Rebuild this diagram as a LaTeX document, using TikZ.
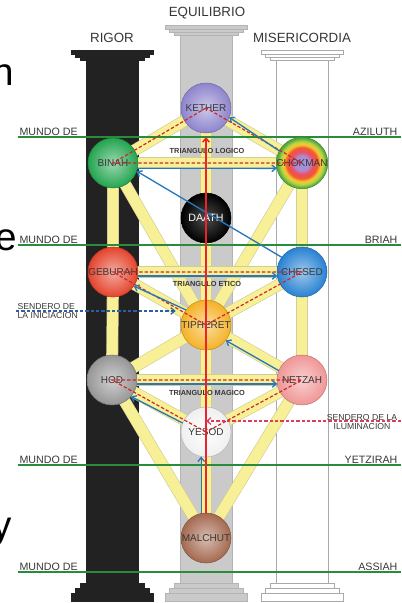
\documentclass[tikz,border=0pt]{standalone}
\usepackage{fontspec}
\setmainfont{Liberation Sans}
\usetikzlibrary{arrows.meta}

\definecolor{ketherc}{RGB}{142,132,205}
\definecolor{binahc}{RGB}{35,165,80}
\definecolor{geburahc}{RGB}{228,68,45}
\definecolor{chesedc}{RGB}{40,130,210}
\definecolor{tipherethc}{RGB}{245,178,40}
\definecolor{hodc}{RGB}{150,150,150}
\definecolor{netzahc}{RGB}{240,150,150}
\definecolor{malchutc}{RGB}{165,105,80}
\definecolor{chokA}{RGB}{150,150,225}
\definecolor{chokB}{RGB}{175,140,210}
\definecolor{chokC}{RGB}{235,80,100}
\definecolor{chokD}{RGB}{240,90,45}
\definecolor{chokE}{RGB}{250,200,50}
\definecolor{chokF}{RGB}{175,212,70}
\definecolor{chokG}{RGB}{85,170,60}
\definecolor{labelgray}{RGB}{55,55,55}
\definecolor{pathyellow}{RGB}{247,240,150}
\definecolor{pathedge}{RGB}{210,205,150}
\definecolor{worldgreen}{RGB}{40,140,60}
\definecolor{trired}{RGB}{205,40,40}
\definecolor{spinered}{RGB}{235,35,45}
\definecolor{flashblue}{RGB}{40,120,185}
\definecolor{inicblue}{RGB}{45,95,165}
\definecolor{ilumred}{RGB}{220,60,95}
\definecolor{pillarblack}{RGB}{34,34,34}
\definecolor{pillargray}{RGB}{202,202,202}
\definecolor{pillargrayedge}{RGB}{180,180,180}
\definecolor{pillaredge}{RGB}{170,170,170}

\pgfdeclareradialshading{chokmahrings}{\pgfpoint{0bp}{0bp}}{color(0bp)=(chokA); color(7bp)=(chokB); color(11bp)=(chokC); color(15bp)=(chokD); color(18bp)=(chokE); color(21bp)=(chokF); color(24bp)=(chokG); color(50bp)=(chokG)}

\pgfdeclarelayer{pillars}
\pgfdeclarelayer{paths}
\pgfsetlayers{pillars,paths,main}

\tikzset{
  sefira/.style={circle, minimum size=37.5pt, inner sep=0pt, outer sep=0pt, line width=0.4pt, text=labelgray, font=\fontsize{7.5}{8}\selectfont},
  sefiratint/.style={inner color=#1!45!white, outer color=#1, draw=#1!80!black},
  sendero/.style={double=pathyellow, double distance=8pt, line width=0.5pt, draw=pathedge},
  mundo/.style={draw=worldgreen, line width=1.1pt},
  mundotext/.style={font=\fontsize{8}{9}\selectfont, text=labelgray, inner sep=1pt},
  pillarlabel/.style={font=\fontsize{10}{12}\selectfont, text=labelgray},
  trianglelabel/.style={font=\fontsize{5.5}{6}\selectfont\bfseries, text=labelgray, inner sep=1pt},
  senderolabel/.style={font=\fontsize{6.5}{7}\selectfont, text=labelgray, inner sep=1pt},
  trianglepath/.style={draw=trired, line width=0.9pt, dash pattern=on 2.5pt off 1.5pt},
  flashpath/.style={draw=flashblue, line width=1pt, -{Straight Barb[length=3pt,width=5pt]}},
  spine/.style={draw=spinered, line width=1.1pt, -{Straight Barb[length=3pt,width=5pt]}, shorten >=3pt},
  stray/.style={font=\fontsize{29}{30}\selectfont, text=black, inner sep=0pt}
}

\begin{document}
\begin{tikzpicture}[x=0.75pt, y=-0.75pt]
  \useasboundingbox (0,0) rectangle (401,603);

  % letters cut off at the left edge
  \node[stray, anchor=base east] (strayn) at (14,85) {n};
  \node[stray, anchor=base east] (straye) at (17,250) {e};
  \node[stray, anchor=base east] (strayy) at (12,538) {y};

  % pillar titles
  \node[pillarlabel] (equilibrio) at (207,13) {EQUILIBRIO};
  \node[pillarlabel] (rigor) at (112,38) {RIGOR};
  \node[pillarlabel] (misericordia) at (302,38) {MISERICORDIA};

  % the sefirot
  \node[sefira, sefiratint=ketherc] (kether) at (206,108) {KETHER};
  \node[sefira, sefiratint=binahc] (binah) at (113,163) {BINAH};
  \node[sefira, shade, shading=chokmahrings, draw=chokG!80!black] (chokmah) at (302,163) {CHOKMAN};
  \node[sefira, inner color=black!70, outer color=black, draw=black, text=white, font=\fontsize{8}{9}\selectfont] (daath) at (206,218) {DAATH};
  \node[sefira, sefiratint=geburahc] (geburah) at (113,272) {GEBURAH};
  \node[sefira, sefiratint=chesedc] (chesed) at (302,272) {CHESED};
  \node[sefira, sefiratint=tipherethc] (tiphereth) at (206,325) {TIPHERET};
  \node[sefira, sefiratint=hodc] (hod) at (112,380) {HOD};
  \node[sefira, sefiratint=netzahc] (netzah) at (302,380) {NETZAH};
  \node[sefira, inner color=white, outer color=gray!12, draw=gray!55] (yesod) at (206,432) {YESOD};
  \node[sefira, sefiratint=malchutc] (malchut) at (206,538) {MALCHUT};

  % the 22 paths and the four worlds
  \begin{pgfonlayer}{paths}
    \foreach \a/\b in {kether/binah, kether/chokmah, kether/tiphereth, binah/chokmah, binah/geburah, binah/tiphereth, chokmah/chesed, chokmah/tiphereth, geburah/chesed, geburah/tiphereth, chesed/tiphereth, geburah/hod, chesed/netzah, tiphereth/hod, tiphereth/netzah, tiphereth/yesod, hod/netzah, hod/yesod, netzah/yesod, hod/malchut, netzah/malchut, yesod/malchut}
      \draw[sendero] (\a.center) -- (\b.center);
    \foreach \wy in {137,245,465,572}
      \draw[mundo] (18,\wy) -- (401,\wy);
  \end{pgfonlayer}

  % pillars
  \begin{pgfonlayer}{pillars}
    \foreach \px/\py/\pc/\pe in {112/50/pillarblack/pillarblack, 206/25/pillargray/pillargrayedge, 302/50/white/pillaredge} {
      \filldraw[fill=\pc, draw=\pe, line width=0.5pt] (\px-41,\py) rectangle (\px+41,\py+4);
      \filldraw[fill=\pc, draw=\pe, line width=0.5pt] (\px-37,\py+4) rectangle (\px+37,\py+7);
      \filldraw[fill=\pc, draw=\pe, line width=0.5pt] (\px-32,\py+7) rectangle (\px+32,\py+10);
      \filldraw[fill=\pc, draw=\pe, line width=0.5pt] (\px-26,\py+10) rectangle (\px+26,583);
      \filldraw[fill=\pc, draw=\pe, line width=0.5pt] (\px-32,583) rectangle (\px+32,588);
      \filldraw[fill=\pc, draw=\pe, line width=0.5pt] (\px-37,588) rectangle (\px+37,593);
      \filldraw[fill=\pc, draw=\pe, line width=0.5pt] (\px-41,593) rectangle (\px+41,601);
    }
  \end{pgfonlayer}

  % world names
  \foreach \wy/\wname in {137/AZILUTH, 245/BRIAH, 465/YETZIRAH, 572/ASSIAH} {
    \node[mundotext, anchor=south west] (mundo\wname) at (18,\wy) {MUNDO DE};
    \node[mundotext, anchor=south east] (\wname) at (399,\wy) {\wname};
  }

  % the three triangles
  \draw[trianglepath] (kether.center) -- (binah.center) -- (chokmah.center) -- cycle;
  \draw[trianglepath] (tiphereth.center) -- (geburah.center) -- (chesed.center) -- cycle;
  \draw[trianglepath] (yesod.center) -- (hod.center) -- (netzah.center) -- cycle;
  \node[trianglelabel] (logico) at (207,151) {TRIANGULO LOGICO};
  \node[trianglelabel] (etico) at (207,284) {TRIANGULO ETICO};
  \node[trianglelabel] (magico) at (207,393) {TRIANGULO MAGICO};

  % rising path
  \draw[flashpath] (malchut.101) -- (yesod.-101);
  \draw[flashpath] (yesod.159) -- (hod.-41);
  \draw[flashpath] (hod.-9) -- (netzah.-171);
  \draw[flashpath] (netzah.158) -- (tiphereth.-38);
  \draw[flashpath] (tiphereth.143) -- (geburah.-34);
  \draw[flashpath] (geburah.-9) -- (chesed.-171);
  \draw[flashpath] (chesed.144) -- (binah.-19);
  \draw[flashpath] (binah.-12) -- (chokmah.-168);
  \draw[flashpath] (chokmah.152) -- (kether.-22);
  \draw[spine] (malchut.north) -- (kether.south);

  % initiation and illumination
  \node[senderolabel, align=left, anchor=west] (iniciacion) at (16,311) {SENDERO DE\\LA INICIACION};
  \draw[inicblue, line width=0.9pt, dash pattern=on 2.5pt off 1.5pt, -{Straight Barb[length=3pt,width=5pt]}, shorten >=4pt] (iniciacion.west) -- (tiphereth.west |- iniciacion.west);
  \node[senderolabel, align=center] (iluminacion) at (362,422) {SENDERO DE LA\\ILUMINACION};
  \coordinate (iluminacionstart) at (401,421);
  \draw[ilumred, line width=0.9pt, dash pattern=on 2.5pt off 1.5pt, -{Straight Barb[length=3pt,width=5pt]}] (iluminacionstart) -- (yesod.center |- iluminacionstart);

\end{tikzpicture}
\end{document}
